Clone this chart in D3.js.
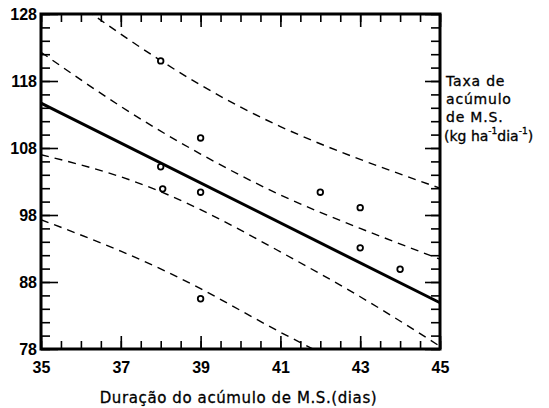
<!DOCTYPE html>
<html>
<head>
<meta charset="utf-8">
<script src="https://cdn.jsdelivr.net/npm/d3@7"></script>
<style>
body { margin: 0; background: #fff; }
text { fill: #000; }
</style>
</head>
<body>
<svg id="chart"></svg>
<script>
// pontos observados
var duracao = [38, 39, 38, 38.05, 39, 39, 42, 43, 43, 44];
var taxa = [121.0, 109.5, 105.2, 101.9, 101.4, 85.5, 101.4, 99.1, 93.1, 89.9];

// reta de regressao (extremos)
var retaX = [35, 45];
var retaY = [114.7, 84.9];

var faixaX = [35, 37, 39, 41, 43, 45];
var supInterna = [122.3, 114.2, 107.1, 101.0, 96.0, 91.4];
var infInterna = [107.0, 103.7, 98.8, 92.5, 85.8, 78.4];
var supExterna = [133.5, 125.0, 117.4, 111.2, 106.3, 102.0];
var infExterna = [97.3, 92.6, 87.0, 80.5, 74.3, 66.9];

var xTicks = [35, 37, 39, 41, 43, 45];
var yTicks = [78, 88, 98, 108, 118, 128];

var width = 549, height = 408;
var mLeft = 41, mRight = 440, mTop = 14, mBottom = 349;

var svg = d3.select('#chart')
    .attr('width', width)
    .attr('height', height);

var x = d3.scaleLinear().domain([35, 45]).range([mLeft, mRight]);
var y = d3.scaleLinear().domain([78, 128]).range([mBottom, mTop]);

var xMinor = d3.range(35, 45.01, 0.5);
var yMinor = d3.range(78, 128.01, 2);

svg.append('clipPath').attr('id', 'area')
    .append('rect')
    .attr('x', mLeft).attr('y', mTop)
    .attr('width', mRight - mLeft).attr('height', mBottom - mTop);

// ticks - minor then major, all pointing inward
function ticks(axis, tr, vals, size, labels) {
    var g = svg.append('g')
        .attr('transform', tr)
        .call(axis.tickValues(vals).tickSize(size).tickPadding(labels ? 6 : 0)
            .tickFormat(labels ? d3.format('d') : ''));
    g.select('.domain').remove();
    g.selectAll('line').attr('stroke', '#000').attr('stroke-width', 1.6);
    g.selectAll('text')
        .attr('font-family', 'Liberation Sans, Arial, sans-serif')
        .attr('font-weight', 'bold')
        .attr('font-size', 16)
        .attr('fill', '#000');
    return g;
}

ticks(d3.axisBottom(x), 'translate(0,' + mBottom + ')', xMinor, -8, false);
var gx = ticks(d3.axisBottom(x), 'translate(0,' + mBottom + ')', xTicks, -13, true);
gx.selectAll('text').attr('dy', null).attr('y', 24);
ticks(d3.axisTop(x), 'translate(0,' + mTop + ')', xMinor, -8, false);
ticks(d3.axisTop(x), 'translate(0,' + mTop + ')', xTicks, -13, false);

ticks(d3.axisLeft(y), 'translate(' + mLeft + ',0)', yMinor, -9, false);
var gy = ticks(d3.axisLeft(y), 'translate(' + mLeft + ',0)', yTicks, -17, true);
gy.selectAll('text').attr('x', -4);
ticks(d3.axisRight(y), 'translate(' + mRight + ',0)', yMinor, -9, false);
ticks(d3.axisRight(y), 'translate(' + mRight + ',0)', yTicks, -15, false);

// moldura
svg.append('rect')
    .attr('x', mLeft).attr('y', mTop)
    .attr('width', mRight - mLeft).attr('height', mBottom - mTop)
    .attr('fill', 'none')
    .attr('stroke', '#000')
    .attr('stroke-width', 3);

var curva = d3.line()
    .x(function(d) { return x(d[0]); })
    .y(function(d) { return y(d[1]); })
    .curve(d3.curveNatural);

var faixas = [supExterna, supInterna, infInterna, infExterna];
svg.append('g').attr('clip-path', 'url(#area)')
    .selectAll('path').data(faixas)
    .enter()
    .append('path')
    .attr('d', function(s) { return curva(d3.zip(faixaX, s)); })
    .attr('fill', 'none')
    .attr('stroke', '#000')
    .attr('stroke-width', 1.4)
    .attr('stroke-dasharray', '8,6');

svg.append('path')
    .attr('d', d3.line().x(function(d) { return x(d[0]); }).y(function(d) { return y(d[1]); })(d3.zip(retaX, retaY)))
    .attr('fill', 'none')
    .attr('stroke', '#000')
    .attr('stroke-width', 3);

svg.selectAll('circle.obs').data(d3.zip(duracao, taxa))
    .enter()
    .append('circle')
    .attr('class', 'obs')
    .attr('cx', function(d) { return x(d[0]); })
    .attr('cy', function(d) { return y(d[1]); })
    .attr('r', 2.8)
    .attr('fill', '#fff')
    .attr('stroke', '#000')
    .attr('stroke-width', 1.8);

// titulo eixo x
svg.append('text')
    .attr('x', (mLeft + mRight) / 2 - 2)
    .attr('y', 403)
    .attr('text-anchor', 'middle')
    .attr('font-family', 'DejaVu Sans, sans-serif')
    .attr('font-size', 15)
    .attr('letter-spacing', 0.6)
    .attr('stroke', '#000')
    .attr('stroke-width', 0.3)
    .text('Duração do acúmulo de M.S.(dias)');

// titulo eixo y (a direita)
var rot = svg.append('text')
    .attr('font-family', 'DejaVu Sans, sans-serif')
    .attr('font-size', 14)
    .attr('letter-spacing', 0.8)
    .attr('stroke', '#000')
    .attr('stroke-width', 0.3);
['Taxa de', 'acúmulo', 'de M.S.'].forEach(function(t, i) {
    rot.append('tspan').attr('x', 446).attr('y', 86 + i * 18).text(t);
});
var ult = svg.append('text')
    .attr('x', 444).attr('y', 141)
    .attr('font-family', 'DejaVu Sans, sans-serif')
    .attr('font-size', 14)
    .attr('stroke', '#000')
    .attr('stroke-width', 0.3);
ult.append('tspan').text('(kg ha');
ult.append('tspan').attr('dy', -7).attr('font-size', 9).text('-1');
ult.append('tspan').attr('dy', 7).text('dia');
ult.append('tspan').attr('dy', -7).attr('font-size', 9).text('-1');
ult.append('tspan').attr('dy', 7).text(')');
</script>
</body>
</html>
